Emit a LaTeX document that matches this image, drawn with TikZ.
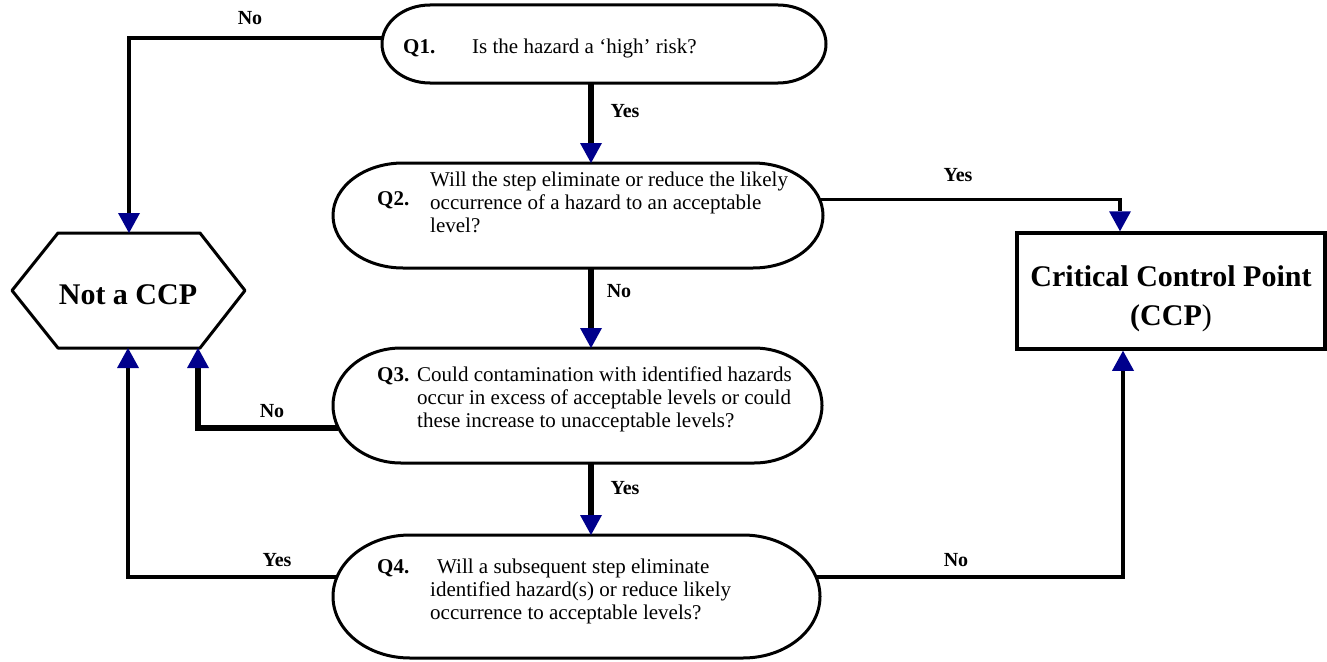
\documentclass[tikz,border=0pt]{standalone}
\usepackage{fontspec}
\setmainfont{Liberation Serif}
\usetikzlibrary{arrows.meta,calc}
\definecolor{tipblue}{RGB}{0,0,140}
\newcommand{\stadiumoutline}[3]{%
  \draw[outline] ([xshift=#2pt]#1.north west) -- ([xshift=-#2pt]#1.north east)
    arc[start angle=90,end angle=-90,x radius=#2pt,y radius=#3pt]
    -- ([xshift=#2pt]#1.south west)
    arc[start angle=270,end angle=90,x radius=#2pt,y radius=#3pt] -- cycle;}
\begin{document}
\begin{tikzpicture}[x=1pt,y=-1pt,
  outline/.style={draw=black,line width=3pt,line join=round},
  qbox/.style={draw=none,inner sep=0pt,outer sep=0pt},
  qtext/.style={anchor=north west,inner sep=0pt,align=left,font=\fontsize{21}{23}\selectfont},
  qlab/.style={anchor=north west,inner sep=0pt,font=\fontsize{21}{23}\selectfont\bfseries},
  lbl/.style={inner sep=0pt,font=\fontsize{20}{22}\selectfont\bfseries},
  big/.style={inner sep=0pt,align=center,font=\fontsize{30}{39}\selectfont\bfseries},
  conn/.style={draw=black,line width=#1,-{Triangle[width=22pt,length=20pt,color=tipblue,line width=0pt]}},
  conn/.default=3.5pt]
\useasboundingbox (0,0) rectangle (1327,661);
\fill[white] (0,0) rectangle (1327,661);

% question shapes
\node[qbox,minimum width=444pt,minimum height=78pt] (Q1) at (604,44) {};
\node[qbox,minimum width=490pt,minimum height=105pt] (Q2) at (578,215.5) {};
\node[qbox,minimum width=489pt,minimum height=115pt] (Q3) at (577.5,405.5) {};
\node[qbox,minimum width=487pt,minimum height=123pt] (Q4) at (576.5,596.5) {};
\stadiumoutline{Q1}{48}{39}
\stadiumoutline{Q2}{70}{52.5}
\stadiumoutline{Q3}{68}{57.5}
\stadiumoutline{Q4}{77}{61.5}

% question texts
\node[qlab] (q1l) at (403,37) {\strut Q1.};
\node[qtext] (q1t) at (472,37) {\strut Is the hazard a ‘high’ risk?};
\node[qlab] (q2l) at (377,189) {\strut Q2.};
\node[qtext] (q2t) at (430,170.5) {\strut Will the step eliminate or reduce the likely\\occurrence of a hazard to an acceptable\\level?};
\node[qlab] (q3l) at (377,365.5) {\strut Q3.};
\node[qtext] (q3t) at (417,365.5) {\strut Could contamination with identified hazards\\occur in excess of acceptable levels or could\\these increase to unacceptable levels?};
\node[qlab] (q4l) at (377,557.5) {\strut Q4.};
\node[qtext] (q4t) at (430,557.5) {\strut\hspace*{7pt}Will a subsequent step eliminate\\identified hazard(s) or reduce likely\\occurrence to acceptable levels?};

% Not a CCP hexagon
\node[qbox,minimum width=142pt,minimum height=115pt] (hex) at (129,290.5) {};
\draw[outline] (hex.north west) -- (hex.north east) -- ([xshift=45pt]hex.east)
  -- (hex.south east) -- (hex.south west) -- ([xshift=-46pt]hex.west) -- cycle;
\node[big] (hext) at (128,295) {Not a CCP};

% CCP box
\node[draw=black,line width=3.5pt,inner sep=0pt,minimum width=308pt,minimum height=116pt] (ccp) at (1171,291) {};
\node[big] (ccpt) at (1171,298.5) {Critical Control Point\\(CCP\textmd{)}};

% connectors
\draw[conn=4.5pt] ([yshift=6pt]Q1.west) -| (hex.north);
\draw[conn=6pt] ([xshift=-13pt]Q1.south) -- ([xshift=13pt]Q2.north);
\draw[conn=3.5pt] ([yshift=16pt,xshift=-3pt]Q2.east) -| ([xshift=-51pt]ccp.north);
\draw[conn=6pt] ([xshift=13pt]Q2.south) -- ([xshift=13.5pt]Q3.north);
\draw[conn=5.5pt] ([yshift=-22.5pt,xshift=5pt]Q3.west) -| ([xshift=69pt]hex.south);
\draw[conn=6pt] ([xshift=13.5pt]Q3.south) -- ([xshift=14.5pt]Q4.north);
\draw[conn=3.5pt] ([yshift=19.5pt,xshift=4pt]Q4.west) -| ([xshift=-1pt]hex.south);
\draw[conn=3.5pt] ([yshift=19.5pt,xshift=-4pt]Q4.east) -| ([xshift=-48pt]ccp.south);

% connector labels
\node[lbl] (l1) at (250,18) {No};
\node[lbl] (l2) at (625,111) {Yes};
\node[lbl] (l3) at (958,175) {Yes};
\node[lbl] (l4) at (619,291) {No};
\node[lbl] (l5) at (272,411) {No};
\node[lbl] (l6) at (625,488) {Yes};
\node[lbl] (l7) at (277,560) {Yes};
\node[lbl] (l8) at (956,560) {No};
\end{tikzpicture}
\end{document}
